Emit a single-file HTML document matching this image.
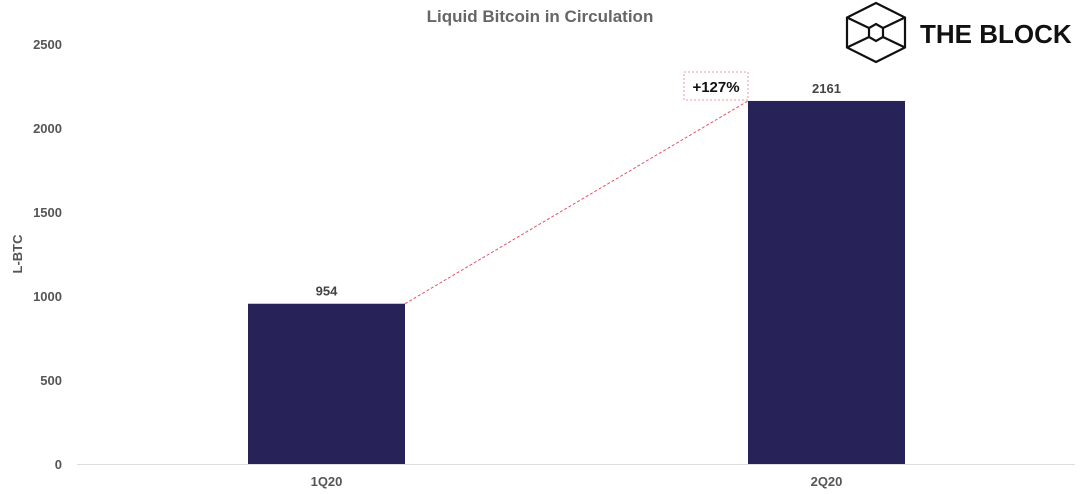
<!DOCTYPE html>
<html><head><meta charset="utf-8"><style>
html,body{margin:0;padding:0;background:#fff;}
svg{display:block;font-family:"Liberation Sans",sans-serif;}
</style></head><body>
<svg id="chart" width="1080" height="494" viewBox="0 0 1080 494" xmlns="http://www.w3.org/2000/svg">
<text x="540" y="22" text-anchor="middle" font-size="17" font-weight="bold" fill="#666">Liquid Bitcoin in Circulation</text>
<g fill="none" stroke="#111" stroke-width="2.2">
<polygon points="876,3 905,17.5 905,47.5 876,62 847,47.5 847,17.5"/>
<polygon points="876,24 883,28 883,37 876,41 869,37 869,28"/>
<line x1="847" y1="17.5" x2="869" y2="28"/><line x1="905" y1="17.5" x2="883" y2="28"/>
<line x1="847" y1="47.5" x2="869" y2="37"/><line x1="905" y1="47.5" x2="883" y2="37"/>
</g>
<text x="920" y="43" font-size="26" font-weight="bold" fill="#111">THE BLOCK</text>
<text transform="translate(22,254) rotate(-90)" text-anchor="middle" font-size="13" font-weight="bold" fill="#555">L-BTC</text>
<g id="axis"></g><g id="bars"></g>
</svg>
<script>
const categories = ["1Q20","2Q20"];
const values = [954, 2161];
const yTicks = [0,500,1000,1500,2000,2500];
const changeLabel = "+127%";
const svgNS="http://www.w3.org/2000/svg";
const y0=464, yTop=44, yMax=2500;
function y(v){return y0-(v/yMax)*(y0-yTop);}
function xc(i){return 326.5+i*500;}
const bw=157;
const axis=document.getElementById('axis'), bars=document.getElementById('bars');
function mk(tag,attrs,parent){const e=document.createElementNS(svgNS,tag);for(const k in attrs)e.setAttribute(k,attrs[k]);parent.appendChild(e);return e;}
yTicks.forEach(t=>{
 const tx=mk('text',{x:62,y:y(t)+5,'text-anchor':'end','font-size':'13','font-weight':'bold',fill:'#555'},axis);
 tx.textContent=t;
 
 
});
const base=mk('line',{x1:77,x2:1075,y1:y0+0.5,y2:y0+0.5,stroke:'#ddd','stroke-width':1},axis);


categories.forEach((c,i)=>{
 const r=mk('rect',{x:xc(i)-bw/2,y:y(values[i]),width:bw,height:y0-y(values[i]),fill:'#272257'},bars);
 
 
 const l=mk('text',{x:xc(i),y:y(values[i])-8,'text-anchor':'middle','font-size':'13','font-weight':'bold',fill:'#444'},bars);
 l.textContent=values[i];
 
 
 const xl=mk('text',{x:xc(i),y:486,'text-anchor':'middle','font-size':'13','font-weight':'bold',fill:'#555'},bars);
 xl.textContent=c;
 
 
});
const x1=xc(0)+bw/2, x2=xc(1)-bw/2;
const ln=mk('line',{x1:x1,y1:y(values[0]),x2:x2,y2:y(values[1]),stroke:'#e0566a','stroke-width':1,'stroke-dasharray':'3,2'},bars);


const bx=mk('rect',{x:x2-64,y:y(values[1])-29,width:64,height:28,fill:'none',stroke:'#e89aa6','stroke-width':1,'stroke-dasharray':'2,2'},bars);


const ct=mk('text',{x:x2-32,y:y(values[1])-9,'text-anchor':'middle','font-size':'15','font-weight':'bold',fill:'#111'},bars);
ct.textContent=changeLabel;


</script>
</body></html>
